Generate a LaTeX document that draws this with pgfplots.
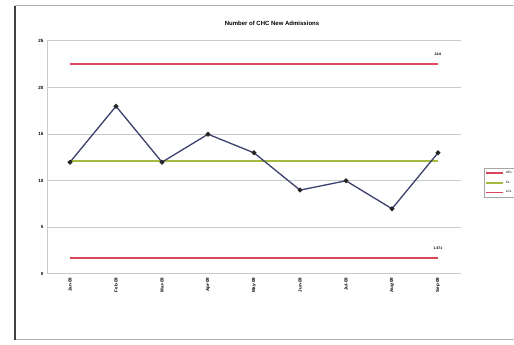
\documentclass[border=0pt]{standalone}
\usepackage{pgfplots}
\pgfplotsset{compat=1.18}
\usepackage{fontspec}
\setmainfont{Liberation Sans}
\definecolor{ctrlred}{rgb}{0.85,0.28,0.35}
\definecolor{ctrlgreen}{rgb}{0.66,0.72,0.24}
\definecolor{datablue}{rgb}{0.23,0.25,0.43}
\definecolor{gridc}{rgb}{0.78,0.80,0.77}
\begin{document}
\begin{tikzpicture}
\path[use as bounding box] (0pt,0pt) rectangle (514pt,345pt);
\draw[gray!60, line width=1pt] (15pt,5pt) -- (513.6pt,5pt);
\draw[gray!60, line width=1pt] (15pt,339pt) -- (513.6pt,339pt);
\draw[black!75, line width=1.5pt] (15pt,5pt) -- (15pt,339pt);
\node[font=\bfseries\fontsize{6}{7}\selectfont] at (272pt,322pt) {Number of CHC New Admissions};
\begin{axis}[
  at={(47pt,71pt)}, anchor=south west,
  width=414pt, height=233pt, scale only axis,
  xmin=-0.5, xmax=8.5, ymin=0, ymax=25,
  ytick={0,5,10,15,20,25},
  xtick={0,...,8},
  xticklabels={Jan-09,Feb-09,Mar-09,Apr-09,May-09,Jun-09,Jul-09,Aug-09,Sep-09},
  x tick label style={rotate=90, anchor=east, font=\bfseries\fontsize{4.5}{5}\selectfont},
  y tick label style={font=\bfseries\fontsize{4.5}{5}\selectfont},
  /pgf/number format/assume math mode=true,
  ymajorgrids, major grid style={gridc, line width=1pt},
  axis x line*=bottom, axis y line*=left,
  axis line style={gridc, line width=1pt},
  tick style={draw=none},
  legend style={at={(1.0556,0.455)}, anchor=north west, font=\fontsize{3.2}{3.6}\selectfont, draw=gray!70, line width=1pt, inner sep=0.8pt, row sep=2pt},
  legend cell align=left,
  clip=false,
]
\addplot[draw=ctrlred, line width=2pt, mark=none, forget plot] coordinates {(0,22.55) (8,22.55)};
\addplot[draw=ctrlgreen, line width=2pt, mark=none, forget plot] coordinates {(0,12.11) (8,12.11)};
\addplot[draw=ctrlred, line width=2pt, mark=none, forget plot] coordinates {(0,1.67) (8,1.67)};
\addplot[draw=datablue, line width=1.3pt, mark=*, mark size=1.7pt, mark options={fill=black!85, draw=black!85}, forget plot]
  coordinates {(0,12) (1,18) (2,12) (3,15) (4,13) (5,9) (6,10) (7,7) (8,13)};
\addlegendimage{draw=ctrlred, line width=1.5pt}\addlegendentry{UCL}
\addlegendimage{draw=ctrlgreen, line width=1.5pt}\addlegendentry{CL}
\addlegendimage{draw=ctrlred, line width=1.5pt}\addlegendentry{LCL}
\node[font=\bfseries\fontsize{3.5}{4}\selectfont, anchor=south] at (axis cs:8,23.1) {22.6};
\node[font=\bfseries\fontsize{3.5}{4}\selectfont, anchor=south] at (axis cs:8,2.2) {1.671};
\end{axis}
\end{tikzpicture}
\end{document}
